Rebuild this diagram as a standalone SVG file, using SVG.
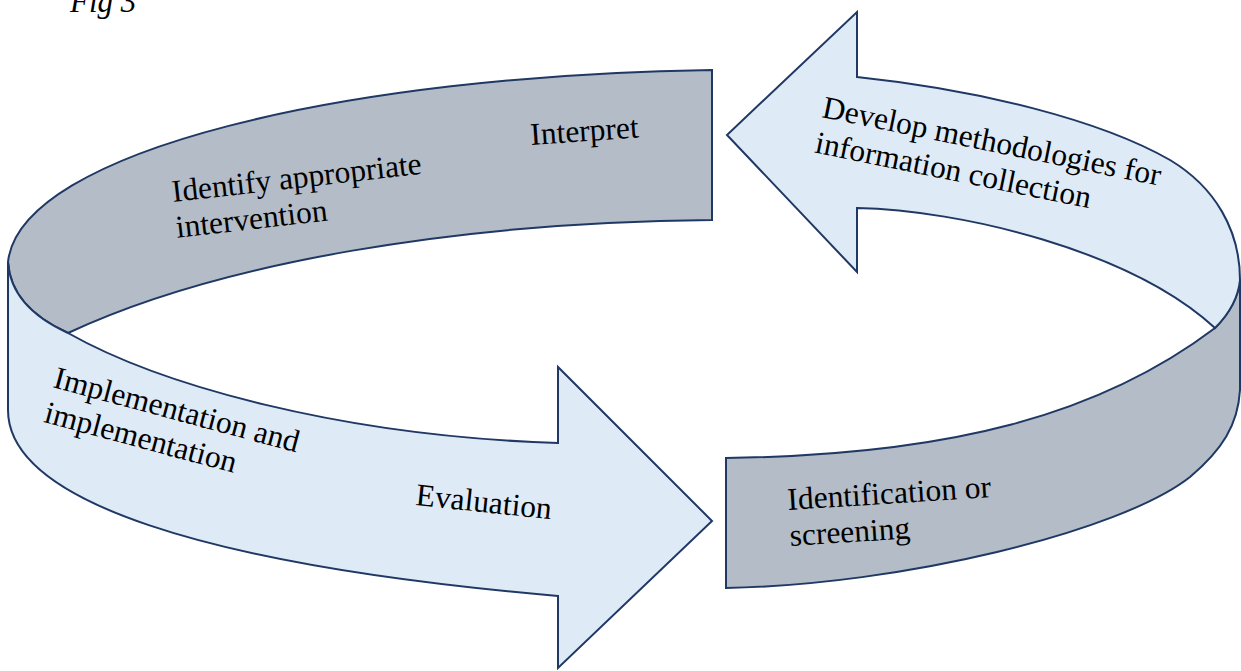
<svg xmlns="http://www.w3.org/2000/svg" width="1241" height="671" viewBox="0 0 1241 671">
  <style>
    .back { fill: #b3bcc7; stroke: #1f3864; stroke-width: 2; stroke-linejoin: miter; }
    .front { fill: #deeaf6; stroke: #1f3864; stroke-width: 2; stroke-linejoin: miter; }
    .lbl { font-family: "Liberation Serif", "Times New Roman", serif; font-size: 31.5px; fill: #000; }
    .cap { font-family: "Liberation Serif", "Times New Roman", serif; font-size: 31px; font-style: italic; fill: #000; }
  </style>
  <rect width="1241" height="671" fill="#ffffff"/>
  <text class="cap" x="70" y="12">Fig 3</text>

  <g id="node-left-arrow">
    <path class="back" d="M712,70 L712,220 C460,222 220,262 68,333 C35,318 10,295 8,262 C20,150 350,75 712,70 Z"/>
    <path class="front" d="M8,262 C10,295 35,318 68,333 C160,385 340,436 558,443 L558,367 L712,521 L558,668 L558,596 C200,565 8,500 8,410 Z"/>
    <text class="lbl" transform="translate(531,145) rotate(-4)">Interpret</text>
    <text class="lbl" transform="translate(173,202) rotate(-6.5)"><tspan x="0" y="0">Identify appropriate</tspan><tspan x="0" y="36">intervention</tspan></text>
    <text class="lbl" transform="translate(52,387) rotate(15)"><tspan x="0" y="0">Implementation and</tspan><tspan x="0" y="36">implementation</tspan></text>
    <text class="lbl" transform="translate(415,505) rotate(6)">Evaluation</text>
  </g>

  <g id="node-right-arrow">
    <path class="back" d="M726,458 L726,588 C900,585 1120,532 1190,477 C1222,450 1238,425 1240,390 L1240,280 C1238,300 1228,315 1215,328 C1100,415 950,455 726,458 Z"/>
    <path class="front" d="M857,77 L857,12 L727,135 L857,272 L857,208 C960,210 1130,250 1215,328 C1228,315 1238,300 1240,280 C1240,230 1215,187 1170,160 C1100,120 980,90 857,77 Z"/>
    <text class="lbl" transform="translate(821,117) rotate(11.5)"><tspan x="0" y="0">Develop methodologies for</tspan><tspan x="0" y="36">information collection</tspan></text>
    <text class="lbl" transform="translate(788,510) rotate(-3.6)"><tspan x="0" y="0">Identification or</tspan><tspan x="0" y="36">screening</tspan></text>
  </g>

  <g id="connectors"/>
</svg>
